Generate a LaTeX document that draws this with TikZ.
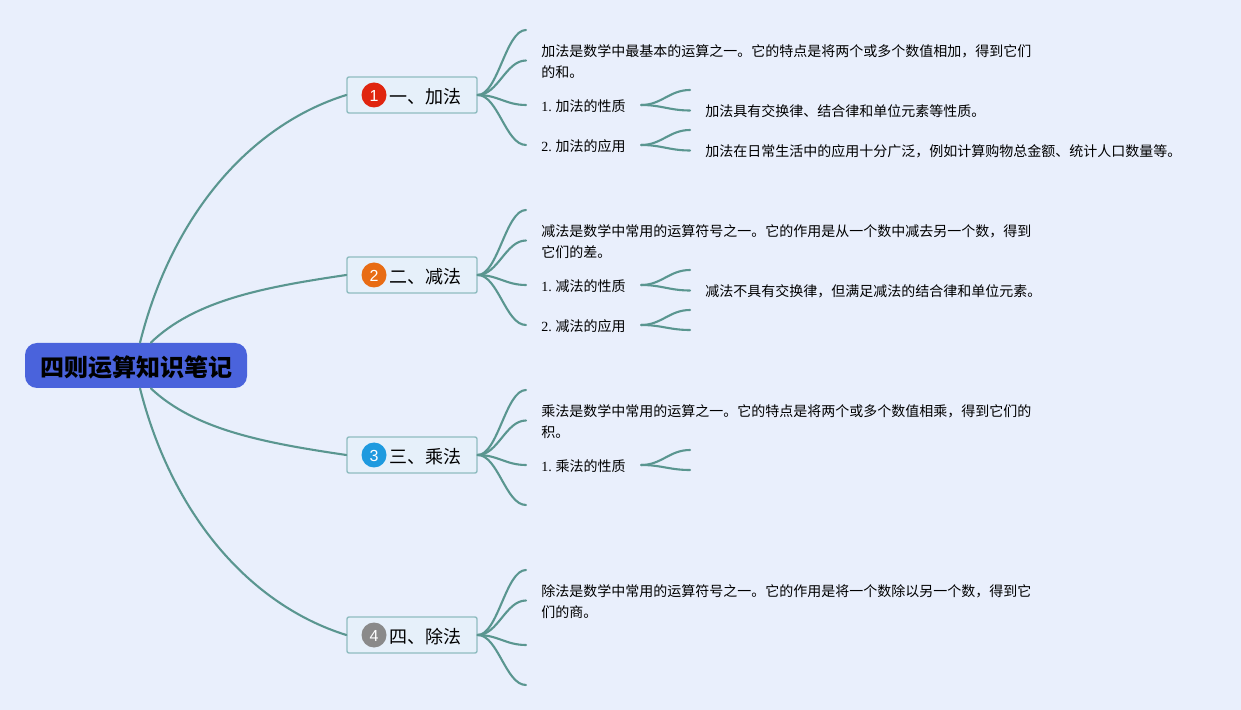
\documentclass[tikz,border=0pt]{standalone}
\usepackage{fontspec}
\usetikzlibrary{calc}
\setmainfont{Liberation Serif}
\newfontfamily\cjk{Noto Sans CJK SC}
\newfontfamily\badgefont{Liberation Sans}
\newcommand{\firstline}{\rule{0pt}{6.6pt}}
\definecolor{paper}{HTML}{E9EFFC}
\definecolor{linkcol}{HTML}{5A9690}
\definecolor{rootcol}{HTML}{4A63DC}
\definecolor{boxcol}{HTML}{E6F0FA}
\definecolor{boxline}{HTML}{8FBCC0}
\tikzset{
  link/.style={draw=linkcol,line width=1.05pt,line cap=round},
  fan/.style={link,to path={let \p1=(\tikztostart),\p2=(\tikztotarget) in .. controls (\x1+0.42*\x2-0.42*\x1,\y1) and (\x1+0.58*\x2-0.58*\x1,\y2) .. (\tikztotarget)}},
  rootbox/.style={fill=rootcol,rounded corners=6pt,minimum width=111pt,minimum height=22.5pt,inner sep=0pt,font=\cjk\fontsize{12}{14}\selectfont\bfseries,execute at begin node={\rule{0pt}{12.6pt}}},
  branch/.style={draw=boxline,fill=boxcol,line width=0.7pt,rounded corners=1pt,minimum width=65pt,minimum height=18pt,inner sep=0pt,font=\cjk\fontsize{9}{11}\selectfont,execute at begin node={\rule{0pt}{9.5pt}}},
  badge/.style={circle,minimum size=12.5pt,inner sep=0pt,text=white,font=\badgefont\fontsize{8}{10}\selectfont,execute at begin node={\rule{0pt}{6.8pt}}},
  textnode/.style={anchor=west,inner xsep=7.5pt,inner ysep=1pt,align=left,font=\cjk\fontsize{7}{10.5}\selectfont,execute at begin node={\rule{0pt}{7pt}}}
}
\begin{document}
\begin{tikzpicture}[x=0.5pt,y=-0.5pt]
  \fill[paper] (0,0) rectangle (1241,710);
  \useasboundingbox (0,0) rectangle (1241,710);

  \node[rootbox] (root) at (136,365.5) {四则运算知识笔记};

  \node[branch] (b1) at (412,95) {\hspace{13pt}一、加法};
  \node[branch] (b2) at (412,275) {\hspace{13pt}二、减法};
  \node[branch] (b3) at (412,455) {\hspace{13pt}三、乘法};
  \node[branch] (b4) at (412,635) {\hspace{13pt}四、除法};
  \node[badge,fill={rgb,255:red,224;green,37;blue,15}] (d1) at (374,95) {1};
  \node[badge,fill={rgb,255:red,232;green,108;blue,20}] (d2) at (374,275) {2};
  \node[badge,fill={rgb,255:red,30;green,154;blue,223}] (d3) at (374,455) {3};
  \node[badge,fill={rgb,255:red,138;green,138;blue,138}] (d4) at (374,635) {4};

  \draw[link] (root.80) .. controls (172,215) and (250,125) .. (b1.west);
  \draw[link] (root.57) .. controls (195,300) and (265,287) .. (b2.west);
  \draw[link] (root.-57) .. controls (195,430) and (265,443) .. (b3.west);
  \draw[link] (root.-80) .. controls (172,515) and (250,605) .. (b4.west);

  % first branch
  \coordinate (e11) at (526,30);
  \node[textnode] (t12) at (526,60.5) {\firstline 加法是数学中最基本的运算之一。它的特点是将两个或多个数值相加，得到它们\\的和。};
  \node[textnode] (t13) at (526,105) {{\rmfamily 1.}\hspace{1.9pt}加法的性质};
  \node[textnode] (t14) at (526,145) {{\rmfamily 2.}\hspace{1.9pt}加法的应用};
  \coordinate (e131) at (690,90);
  \node[textnode] (t132) at (690,110.5) {加法具有交换律、结合律和单位元素等性质。};
  \coordinate (e141) at (690,130);
  \node[textnode] (t142) at (690,150.5) {加法在日常生活中的应用十分广泛，例如计算购物总金额、统计人口数量等。};
  \draw[fan] (b1.east) to (e11);
  \draw[fan] (b1.east) to (t12.west);
  \draw[fan] (b1.east) to (t13.west);
  \draw[fan] (b1.east) to (t14.west);
  \draw[fan] (t13.east) to (e131);
  \draw[fan] (t13.east) to (t132.west);
  \draw[fan] (t14.east) to (e141);
  \draw[fan] (t14.east) to (t142.west);

  % second branch
  \coordinate (e21) at (526,210);
  \node[textnode] (t22) at (526,240.5) {\firstline 减法是数学中常用的运算符号之一。它的作用是从一个数中减去另一个数，得到\\它们的差。};
  \node[textnode] (t23) at (526,285) {{\rmfamily 1.}\hspace{1.9pt}减法的性质};
  \node[textnode] (t24) at (526,325) {{\rmfamily 2.}\hspace{1.9pt}减法的应用};
  \coordinate (e231) at (690,270);
  \node[textnode] (t232) at (690,290.5) {减法不具有交换律，但满足减法的结合律和单位元素。};
  \coordinate (e241) at (690,310);
  \coordinate (e242) at (690,330);
  \draw[fan] (b2.east) to (e21);
  \draw[fan] (b2.east) to (t22.west);
  \draw[fan] (b2.east) to (t23.west);
  \draw[fan] (b2.east) to (t24.west);
  \draw[fan] (t23.east) to (e231);
  \draw[fan] (t23.east) to (t232.west);
  \draw[fan] (t24.east) to (e241);
  \draw[fan] (t24.east) to (e242);

  % third branch
  \coordinate (e31) at (526,390);
  \node[textnode] (t32) at (526,420.5) {\firstline 乘法是数学中常用的运算之一。它的特点是将两个或多个数值相乘，得到它们的\\积。};
  \node[textnode] (t33) at (526,465) {{\rmfamily 1.}\hspace{1.9pt}乘法的性质};
  \coordinate (e34) at (526,505);
  \coordinate (e331) at (690,450);
  \coordinate (e332) at (690,470);
  \draw[fan] (b3.east) to (e31);
  \draw[fan] (b3.east) to (t32.west);
  \draw[fan] (b3.east) to (t33.west);
  \draw[fan] (b3.east) to (e34);
  \draw[fan] (t33.east) to (e331);
  \draw[fan] (t33.east) to (e332);

  % fourth branch
  \coordinate (e41) at (526,570);
  \node[textnode] (t42) at (526,600.5) {\firstline 除法是数学中常用的运算符号之一。它的作用是将一个数除以另一个数，得到它\\们的商。};
  \coordinate (e43) at (526,645);
  \coordinate (e44) at (526,685);
  \draw[fan] (b4.east) to (e41);
  \draw[fan] (b4.east) to (t42.west);
  \draw[fan] (b4.east) to (e43);
  \draw[fan] (b4.east) to (e44);
\end{tikzpicture}
\end{document}
